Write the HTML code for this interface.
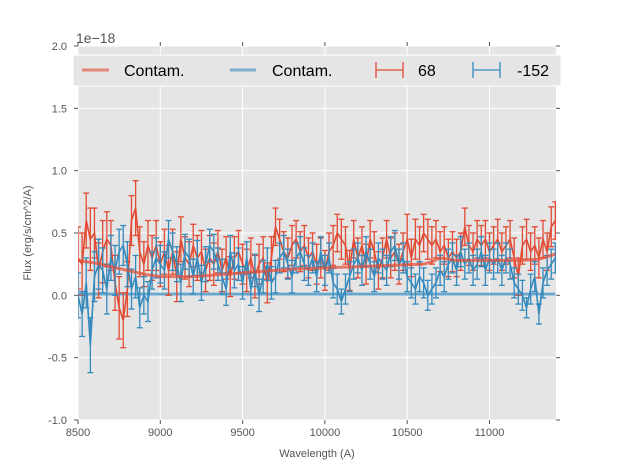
<!DOCTYPE html>
<html><head><meta charset="utf-8"><style>body{margin:0;background:#fff}svg{display:block;font-family:"Liberation Sans",sans-serif}</style></head>
<body>
<svg id="chart" width="617" height="467"></svg>
<script>
const xTicks=[8500,9000,9500,10000,10500,11000];
const yTicks=[-1.0,-0.5,0.0,0.5,1.0,1.5,2.0];
const startWl=8500, stepWl=25;
const redFlux=[0.3,0.25,0.6,0.45,0.5,0.2,0.35,0.45,0.4,0.1,-0.1,-0.2,0.05,0.6,0.7,0.35,0.25,0.4,0.3,0.4,0.25,0.35,0.2,0.35,0.15,0.45,0.3,0.25,0.4,0.3,0.35,0.2,0.3,0.25,0.35,0.2,0.3,0.15,0.3,0.35,0.25,0.2,0.3,0.15,0.25,0.3,0.1,0.3,0.55,0.45,0.35,0.3,0.4,0.45,0.35,0.4,0.3,0.35,0.25,0.3,0.2,0.35,0.4,0.5,0.45,0.4,0.2,0.45,0.3,0.4,0.25,0.45,0.35,0.2,0.3,0.45,0.3,0.35,0.25,0.35,0.45,0.3,0.45,0.4,0.5,0.45,0.4,0.45,0.35,0.4,0.3,0.35,0.3,0.35,0.55,0.4,0.35,0.45,0.4,0.45,0.35,0.4,0.45,0.35,0.4,0.45,0.3,0.15,0.4,0.45,0.35,0.4,0.3,0.45,0.35,0.55,0.6];
const redErr=[0.25,0.25,0.22,0.25,0.2,0.22,0.25,0.22,0.2,0.22,0.25,0.22,0.22,0.2,0.22,0.2,0.18,0.2,0.18,0.2,0.18,0.18,0.2,0.18,0.2,0.18,0.17,0.18,0.17,0.18,0.17,0.17,0.18,0.17,0.17,0.17,0.17,0.16,0.17,0.17,0.16,0.17,0.16,0.17,0.16,0.17,0.16,0.17,0.15,0.16,0.16,0.16,0.16,0.15,0.16,0.16,0.16,0.15,0.16,0.16,0.16,0.15,0.16,0.15,0.16,0.15,0.16,0.15,0.16,0.15,0.16,0.15,0.16,0.15,0.16,0.15,0.16,0.15,0.16,0.15,0.2,0.15,0.16,0.15,0.15,0.16,0.15,0.15,0.16,0.15,0.15,0.16,0.15,0.15,0.15,0.16,0.15,0.15,0.16,0.15,0.15,0.15,0.16,0.15,0.15,0.15,0.16,0.15,0.15,0.16,0.15,0.15,0.16,0.15,0.15,0.16,0.15];
const blueFlux=[0.0,-0.15,0.1,-0.4,0.15,0.25,0.2,0.05,0.3,0.2,0.35,0.4,0.25,0.05,0.15,-0.1,0.0,-0.05,0.2,0.3,0.25,0.2,0.45,0.35,0.25,0.1,0.35,0.3,0.15,0.3,0.1,0.25,0.4,0.35,0.25,0.15,0.05,0.35,0.2,0.25,0.1,0.3,0.05,0.2,0.0,0.15,0.25,0.1,0.15,0.3,0.35,0.25,0.15,0.3,0.35,0.25,0.2,0.3,0.15,0.35,0.2,0.3,0.1,0.05,-0.05,0.05,0.15,0.25,0.3,0.2,0.35,0.25,0.15,0.3,0.25,0.2,0.35,0.4,0.25,0.3,0.15,0.1,0.05,0.15,0.1,0.0,0.05,0.1,0.2,0.15,0.25,0.3,0.2,0.35,0.25,0.3,0.2,0.25,0.35,0.2,0.3,0.25,0.3,0.2,0.3,0.25,0.1,0.05,0.0,-0.1,0.05,0.15,-0.15,0.1,0.2,0.25,0.3];
const blueErr=[0.18,0.18,0.2,0.22,0.2,0.2,0.18,0.2,0.18,0.2,0.18,0.16,0.18,0.16,0.17,0.16,0.15,0.16,0.15,0.16,0.15,0.15,0.15,0.15,0.14,0.15,0.14,0.15,0.14,0.14,0.14,0.14,0.13,0.14,0.13,0.14,0.13,0.13,0.14,0.13,0.13,0.13,0.13,0.13,0.13,0.13,0.13,0.13,0.13,0.12,0.13,0.12,0.13,0.12,0.12,0.13,0.12,0.12,0.12,0.12,0.12,0.12,0.12,0.12,0.1,0.12,0.12,0.12,0.12,0.12,0.12,0.12,0.12,0.12,0.12,0.12,0.12,0.12,0.12,0.12,0.12,0.12,0.12,0.12,0.12,0.12,0.12,0.12,0.12,0.12,0.12,0.12,0.12,0.12,0.12,0.12,0.12,0.12,0.12,0.12,0.12,0.12,0.12,0.12,0.12,0.12,0.12,0.12,0.12,0.08,0.12,0.12,0.08,0.12,0.12,0.12,0.12];
const contamWl=[8500,8600,8700,8800,8900,9000,9200,9400,9600,9800,10000,10200,10400,10600,10650,10700,10800,11000,11200,11300,11400];
const redContam=[0.28,0.26,0.23,0.2,0.17,0.15,0.15,0.17,0.19,0.21,0.22,0.23,0.24,0.25,0.27,0.3,0.28,0.28,0.28,0.29,0.33];
const blueContam=[0.01,0.01,0.01,0.01,0.01,0.01,0.01,0.01,0.01,0.01,0.01,0.01,0.01,0.01,0.01,0.01,0.01,0.01,0.01,0.01,0.01];

const NS="http://www.w3.org/2000/svg";
const svg=document.getElementById('chart');
const L=78,R=556,T=46,B=420;
const X=v=>L+(v-8500)/2904*(R-L);
const Y=v=>T+(2.0-v)/3.0*(B-T);
function mk(tag,attrs,parent){const e=document.createElementNS(NS,tag);for(const k in attrs)e.setAttribute(k,attrs[k]);(parent||svg).appendChild(e);return e;}

let bg=mk('rect',{x:L,y:T,width:R-L,height:B-T,fill:'#e5e5e5'});


const grid=mk('g',{stroke:'#fff','stroke-width':1});


xTicks.forEach(t=>{mk('line',{x1:X(t),x2:X(t),y1:T,y2:B},grid);});
yTicks.forEach(t=>{mk('line',{x1:L,x2:R,y1:Y(t),y2:Y(t)},grid);});
const tk=mk('g',{stroke:'#555','stroke-width':1});
xTicks.forEach(t=>{mk('line',{x1:X(t),x2:X(t),y1:T,y2:T-4},tk);mk('line',{x1:X(t),x2:X(t),y1:B,y2:B+4},tk);});
yTicks.forEach(t=>{mk('line',{x1:L,x2:L-4,y1:Y(t),y2:Y(t)},tk);mk('line',{x1:R,x2:R+4,y1:Y(t),y2:Y(t)},tk);});
xTicks.forEach(t=>{const e=mk('text',{x:X(t),y:B+16,'text-anchor':'middle','font-size':11,fill:'#555'});e.textContent=t;

});
yTicks.forEach(t=>{const e=mk('text',{x:L-11,y:Y(t)+4,'text-anchor':'end','font-size':11,fill:'#555'});e.textContent=t.toFixed(1);

});
let sc=mk('text',{x:76,y:43,'font-size':14,fill:'#555'});sc.textContent='1e\u221218';


let xt=mk('text',{x:317,y:457,'text-anchor':'middle','font-size':11,fill:'#555'});xt.textContent='Wavelength (A)';


let yt=mk('text',{x:31,y:233,'text-anchor':'middle','font-size':11,fill:'#555',transform:'rotate(-90 31 233)'});yt.textContent='Flux (erg/s/cm^2/A)';



const clip=mk('clipPath',{id:'cp'});mk('rect',{x:L,y:T,width:R-L,height:B-T},clip);
function contam(vals,color,name){const p=mk('polyline',{points:contamWl.map((w,i)=>X(w)+','+Y(vals[i])).join(' '),fill:'none',stroke:color,'stroke-width':3,opacity:0.7,'clip-path':'url(#cp)'});

}
function series(vals,errs,color,name){const g=mk('g',{stroke:color,'stroke-width':1.3,fill:'none','clip-path':'url(#cp)'});


vals.forEach((v,i)=>{const x=X(startWl+stepWl*i),e=errs[i]||0.15;mk('line',{x1:x,x2:x,y1:Y(v-e),y2:Y(v+e)},g);mk('line',{x1:x-3,x2:x+3,y1:Y(v-e),y2:Y(v-e)},g);mk('line',{x1:x-3,x2:x+3,y1:Y(v+e),y2:Y(v+e)},g);});
mk('polyline',{points:vals.map((v,i)=>X(startWl+stepWl*i)+','+Y(v)).join(' '),'stroke-width':1.6},g);}
contam(blueContam,'#348abd','blue-contam-line');
series(redFlux,redErr,'#e24a33','red-series-68');
series(blueFlux,blueErr,'#348abd','blue-series-152');
contam(redContam,'#e24a33','red-contam-line');

const lg=mk('g',{});


mk('rect',{x:73,y:55,width:488,height:31,fill:'#e5e5e5',stroke:'#fff','stroke-width':1},lg);
mk('line',{x1:82,x2:109,y1:70,y2:70,stroke:'#e24a33','stroke-width':3,opacity:0.6},lg);
mk('line',{x1:230,x2:256,y1:70,y2:70,stroke:'#348abd','stroke-width':3,opacity:0.6},lg);
[['#e24a33',376],['#348abd',473]].forEach(([c,x0])=>{mk('path',{d:`M${x0},70H${x0+27}M${x0},62V78M${x0+27},62V78`,stroke:c,'stroke-width':1.3,fill:'none'},lg);});
[['Contam.',124],['Contam.',272],['68',418],['-152',517]].forEach(([t,x])=>{const e=mk('text',{x:x,y:76,'font-size':16,fill:'#000'},lg);e.textContent=t;

});
</script>
</body></html>
